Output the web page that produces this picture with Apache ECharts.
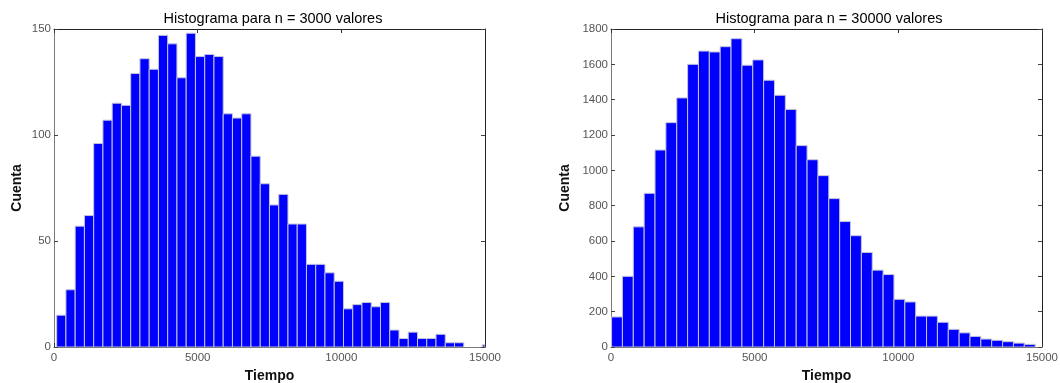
<!DOCTYPE html>
<html>
<head>
<meta charset="utf-8">
<script src="https://cdn.jsdelivr.net/npm/echarts@6/dist/echarts.min.js"></script>
<style>
html,body{margin:0;padding:0;background:#fff;}
#c{width:1060px;height:383px;}
</style>
</head>
<body>
<div id="c"></div>
<script>
// ---- data ----
const titles = ['Histograma para n = 3000 valores', 'Histograma para n = 30000 valores'];
const xName = 'Tiempo';
const yName = 'Cuenta';
const xTicks = [0, 5000, 10000, 15000];
const yTicksLeft = [0, 50, 100, 150];
const yTicksRight = [0, 200, 400, 600, 800, 1000, 1200, 1400, 1600, 1800];

// histogram of 3000 values: first bin edge and bin width, then counts
const binStart3000 = 93;
const binWidth3000 = 322;
const counts3000 = [15, 27, 57, 62, 96, 107, 115, 114, 129, 136,
  131, 147, 143, 127, 148, 137, 138, 137, 110, 108,
  110, 90, 77, 67, 72, 58, 58, 39, 39, 35,
  31, 18, 20, 21, 19, 21, 8, 4, 7, 4,
  4, 6, 2, 2, 0, 0, 1];

// histogram of 30000 values
const binStart30000 = 20;
const binWidth30000 = 378;
const counts30000 = [170, 400, 680, 870, 1115, 1270, 1410, 1600, 1675, 1670,
  1700, 1745, 1595, 1625, 1510, 1425, 1345, 1140, 1060, 970,
  840, 710, 630, 535, 435, 410, 270, 255, 175, 175,
  140, 100, 80, 60, 45, 38, 30, 22, 15];

function bins(start, width, counts) {
  return counts.map((c, i) => [start + i * width, start + (i + 1) * width, c]);
}

const chart = echarts.init(document.getElementById('c'), null, {renderer: 'canvas'});

const FONT = 'Liberation Sans, Arial, sans-serif';
const grids = [
  {left: 54, right: 575, top: 29, bottom: 36, containLabel: false, outerBoundsMode: 'none'},
  {left: 611, right: 18, top: 29, bottom: 36, containLabel: false, outerBoundsMode: 'none'}
];

function renderBar(params, api) {
  const x0 = api.value(0), x1 = api.value(1), y = api.value(2);
  if (!y) return null;
  const p0 = api.coord([x0, y]);
  const p1 = api.coord([x1, 0]);
  const cs = params.coordSys;
  const rect = echarts.graphic.clipRectByRect(
    {x: p0[0], y: p0[1], width: p1[0] - p0[0], height: p1[1] - p0[1]},
    {x: cs.x, y: cs.y, width: cs.width, height: cs.height}
  );
  if (!rect) return null;
  return {
    type: 'rect',
    shape: rect,
    style: {fill: '#0000ff', stroke: '#c4c4dc', lineWidth: 1}
  };
}

const xAxes = [], yAxes = [], series = [];
[0, 1].forEach(g => {
  const ymax = g === 0 ? 150 : 1800;
  const yint = g === 0 ? 50 : 200;
  // bottom x
  xAxes.push({
    type: 'value', gridIndex: g, min: 0, max: 15000, interval: 5000, position: 'bottom',
    name: xName, nameLocation: 'middle', nameGap: 21,
    nameTextStyle: {fontFamily: FONT, fontSize: 14, fontWeight: 'bold', color: '#111'},
    axisLine: {show: true, onZero: false, lineStyle: {color: '#7a7a7a', width: 1}},
    axisTick: {show: true, inside: true, length: 4, lineStyle: {color: '#333'}},
    axisLabel: {show: true, fontFamily: FONT, fontSize: 11.5, color: '#555', margin: 5,
      formatter: v => xTicks.includes(v) ? String(v) : ''},
    splitLine: {show: false}
  });
  // top x (box)
  xAxes.push({
    type: 'value', gridIndex: g, min: 0, max: 15000, interval: 5000, position: 'top',
    axisLine: {show: true, onZero: false, lineStyle: {color: '#222', width: 1}},
    axisTick: {show: true, inside: true, length: 4, lineStyle: {color: '#333'}},
    axisLabel: {show: false}, splitLine: {show: false}
  });
  const yTicks = g === 0 ? yTicksLeft : yTicksRight;
  yAxes.push({
    type: 'value', gridIndex: g, min: 0, max: ymax, interval: yint, position: 'left',
    name: yName, nameLocation: 'middle', nameGap: g === 0 ? 30 : 39,
    nameTextStyle: {fontFamily: FONT, fontSize: 14, fontWeight: 'bold', color: '#111'},
    axisLine: {show: true, onZero: false, lineStyle: {color: '#7a7a7a', width: 1}},
    axisTick: {show: true, inside: true, length: 4, lineStyle: {color: '#444'}},
    axisLabel: {show: true, fontFamily: FONT, fontSize: 11.5, color: '#555', margin: 3,
      formatter: v => yTicks.includes(v) ? String(v) : ''},
    splitLine: {show: false}
  });
  yAxes.push({
    type: 'value', gridIndex: g, min: 0, max: ymax, interval: yint, position: 'right',
    axisLine: {show: true, onZero: false, lineStyle: {color: '#222', width: 1}},
    axisTick: {show: true, inside: true, length: 4, lineStyle: {color: '#444'}},
    axisLabel: {show: false}, splitLine: {show: false}
  });
  series.push({
    type: 'custom', xAxisIndex: g * 2, yAxisIndex: g * 2,
    renderItem: renderBar, clip: true, silent: true,
    encode: {x: [0, 1], y: 2},
    data: g === 0 ? bins(binStart3000, binWidth3000, counts3000)
                  : bins(binStart30000, binWidth30000, counts30000)
  });
});

chart.setOption({
  animation: false,
  backgroundColor: '#ffffff',
  title: [
    {text: titles[0], left: 268, top: 6, textAlign: 'center',
      textStyle: {fontFamily: FONT, fontSize: 14.5, fontWeight: 'normal', color: '#000'}},
    {text: titles[1], left: 824, top: 6, textAlign: 'center',
      textStyle: {fontFamily: FONT, fontSize: 14.5, fontWeight: 'normal', color: '#000'}}
  ],
  grid: grids,
  xAxis: xAxes,
  yAxis: yAxes,
  series: series
});
</script>
</body>
</html>
